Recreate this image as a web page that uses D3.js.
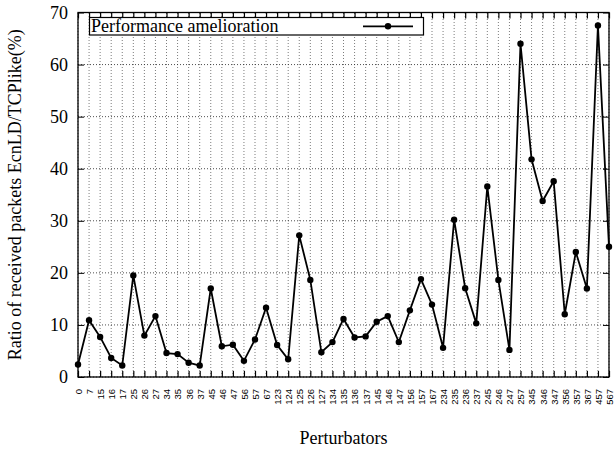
<!DOCTYPE html>
<html><head><meta charset="utf-8">
<script src="https://cdn.jsdelivr.net/npm/d3@7"></script>
<style>body{margin:0;background:#fff}svg{display:block}</style>
</head><body>
<script>
const categories = ["0","7","15","16","17","25","26","27","34","35","36","37","45","46","47","56","57","67","123","124","125","126","127","134","135","136","137","145","146","147","156","157","167","234","235","236","237","245","246","247","257","345","346","347","356","357","367","457","567"];
const values = [2.4,10.9,7.7,3.65,2.2,19.5,7.95,11.7,4.6,4.4,2.75,2.2,17.0,5.9,6.2,3.1,7.2,13.3,6.15,3.4,27.2,18.65,4.75,6.7,11.15,7.6,7.8,10.6,11.7,6.7,12.8,18.8,13.9,5.6,30.2,17.05,10.3,36.6,18.65,5.2,64.0,41.8,33.8,37.6,12.05,24.0,17.0,67.5,25.0];
const yTicks = [0,10,20,30,40,50,60,70];
const seriesName = "Performance amelioration";
const xTitle = "Perturbators";
const yTitle = "Ratio of received packets EcnLD/TCPlike(%)";

const W = 614, H = 450;
const m = {left:78, right:5, top:12.5, bottom:73};
const svg = d3.select("body").append("svg").attr("width",W).attr("height",H);
const x = d3.scalePoint().domain(categories).range([m.left, W-m.right]).padding(0);
const y = d3.scaleLinear().domain([0,70]).range([H-m.bottom, m.top]);
const serif = "Liberation Serif";

// grid
const g = svg.append("g");
g.selectAll(".vg").data(categories).join("line")
  .attr("x1",d=>x(d)).attr("x2",d=>x(d)).attr("y1",y(0)).attr("y2",y(70))
  .attr("stroke","#444").attr("stroke-width",0.7).attr("stroke-dasharray","1,2");
g.selectAll(".hg").data(yTicks).join("line")
  .attr("x1",m.left).attr("x2",W-m.right).attr("y1",d=>y(d)).attr("y2",d=>y(d))
  .attr("stroke","#222").attr("stroke-width",0.8).attr("stroke-dasharray","1,2");

// axes (inward ticks)
const ax = svg.append("g").attr("transform",`translate(0,${y(0)})`)
  .call(d3.axisBottom(x).tickSizeInner(-6).tickSizeOuter(0));
ax.select(".domain").remove();
ax.selectAll(".tick line").attr("stroke","#000").attr("stroke-width",1.2);
ax.selectAll(".tick text").attr("font-family","Liberation Sans").attr("font-size",9.5).attr("fill","#000")
  .attr("text-anchor","end").attr("dy",null).attr("y",null)
  .attr("transform","translate(3.4,12) rotate(-90)");
const axt = svg.append("g").attr("transform",`translate(0,${y(70)})`)
  .call(d3.axisTop(x).tickSizeInner(-6).tickSizeOuter(0).tickFormat(""));
axt.select(".domain").remove();
axt.selectAll(".tick line").attr("stroke","#000").attr("stroke-width",1.2);

const ay = svg.append("g").attr("transform",`translate(${m.left},0)`)
  .call(d3.axisLeft(y).tickValues(yTicks).tickSizeInner(-6).tickSizeOuter(0).tickPadding(10));
ay.select(".domain").remove();
ay.selectAll(".tick text").attr("font-family",serif).attr("font-size",18).attr("fill","#000");
ay.selectAll(".tick line").attr("stroke","#000");
const ayr = svg.append("g").attr("transform",`translate(${W-m.right},0)`)
  .call(d3.axisRight(y).tickValues(yTicks).tickSizeInner(-6).tickSizeOuter(0).tickFormat(""));
ayr.select(".domain").remove();
ayr.selectAll(".tick line").attr("stroke","#000");

// border
svg.append("rect").attr("x",m.left).attr("y",y(70)).attr("width",W-m.right-m.left).attr("height",y(0)-y(70))
  .attr("fill","none").attr("stroke","#000").attr("stroke-width",1.3);

// line + points
const line = d3.line().x((d,i)=>x(categories[i])).y(d=>y(d));
svg.append("path").datum(values).attr("d",line).attr("fill","none").attr("stroke","#000").attr("stroke-width",1.8).attr("stroke-linejoin","miter");
svg.selectAll(".pt").data(values).join("circle")
  .attr("cx",(d,i)=>x(categories[i])).attr("cy",d=>y(d)).attr("r",3.2).attr("fill","#000");

// legend
const lg = svg.append("g");
lg.append("rect").attr("x",89.5).attr("y",17.5).attr("width",334).attr("height",17.5)
  .attr("fill","#fff").attr("stroke","#000").attr("stroke-width",1.2);
lg.append("text").attr("x",91).attr("y",31.5).attr("font-family",serif).attr("font-size",18).text(seriesName);
lg.append("line").attr("x1",363).attr("x2",413).attr("y1",26.3).attr("y2",26.3).attr("stroke","#000").attr("stroke-width",1.8);
lg.append("circle").attr("cx",388).attr("cy",26.3).attr("r",3.2).attr("fill","#000");

// titles
svg.append("text").attr("x",(m.left+W-m.right)/2).attr("y",444).attr("text-anchor","middle")
  .attr("font-family",serif).attr("font-size",18).text(xTitle);
svg.append("text").attr("transform",`translate(21,${(y(0)+y(70))/2}) rotate(-90)`).attr("text-anchor","middle")
  .attr("font-family",serif).attr("font-size",18).text(yTitle);
</script>
</body></html>
